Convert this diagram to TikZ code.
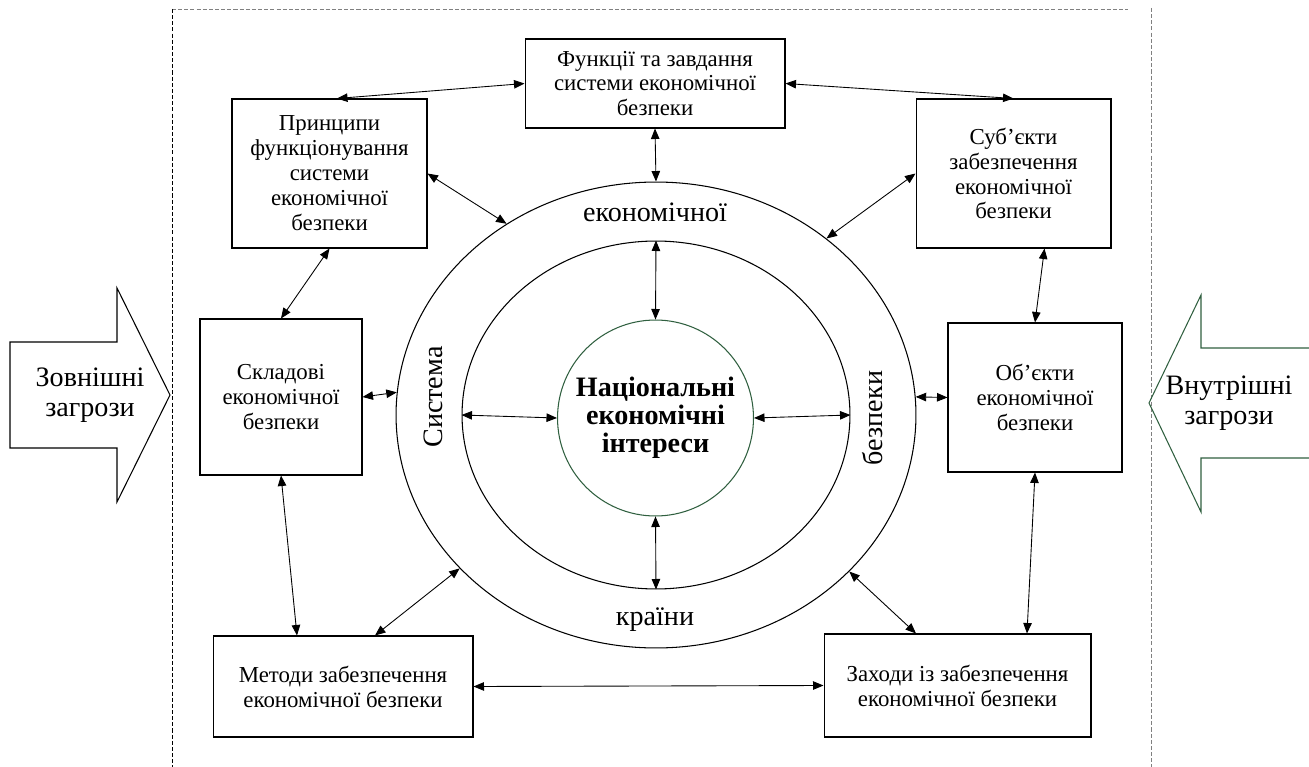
\documentclass[tikz,border=0pt]{standalone}
\usepackage{fontspec}
\setmainfont{Liberation Serif}
\usetikzlibrary{arrows.meta,shapes.geometric}
\definecolor{ringgreen}{RGB}{47,95,63}

\begin{document}
\begin{tikzpicture}[x=0.02cm, y=-0.02cm]

	% Define basic styles
	\tikzset{
		block/.style={
			rectangle, draw=black, line width=0.6pt,
			align=center, inner sep=2pt,
			font=\fontsize{13}{14.2}\selectfont
		},
		ring/.style={
			ellipse, draw=black, line width=0.6pt, inner sep=0pt
		},
		ringtext/.style={
			font=\fontsize{16}{18}\selectfont
		},
		threattext/.style={
			align=center, font=\fontsize{16}{17}\selectfont
		},
		frame/.style={
			line width=0.5pt, dash pattern=on 2.3pt off 1.2pt
		},
		link/.style={
			line width=0.5pt, <->, >={Triangle[length=2.1mm, width=1.7mm]}
		}
	}

	\useasboundingbox (0,0) rectangle (1309,767);

	% Frame
	\draw[frame, gray] (172,9) -- (1128,9);
	\draw[frame, black] (172,9) -- (172,767);
	\draw[frame, gray] (1151,8) -- (1151,767);

	% Threats
	\draw[line width=0.6pt] (10,342) -- (117,342) -- (117,288) -- (170,395)
		-- (117,502) -- (117,448) -- (10,448) -- cycle;
	\node[threattext] (outer threat) at (90,395) {Зовнішні\\загрози};
	\draw[line width=0.6pt, ringgreen] (1312,348) -- (1201,348) -- (1201,295)
		-- (1149,403) -- (1201,512) -- (1201,458) -- (1312,458);
	\node[threattext] (inner threat) at (1229,403) {Внутрішні\\загрози};

	% Rings
	\node[ring, minimum width=10.4cm, minimum height=9.32cm] (outer) at (656,415) {};
	\node[ring, minimum width=7.76cm, minimum height=6.96cm] (mid) at (656,415) {};
	\node[circle, draw=ringgreen, line width=0.6pt, minimum size=3.92cm, inner sep=0pt,
		align=center, font=\fontsize{16}{16}\selectfont\bfseries] (core) at (655.5,418)
		{Національні\\економічні\\інтереси};
	\node[ringtext] (top word) at (655,212) {економічної};
	\node[ringtext] (bottom word) at (655,620) {країни};
	\node[ringtext, rotate=90] (left word) at (433,397) {Система};
	\node[ringtext, rotate=90] (right word) at (873,418) {безпеки};

	% Nodes
	\node[block, minimum width=5.2cm, minimum height=1.78cm] (func) at (655,83.5)
		{Функції та завдання\\системи економічної\\безпеки};
	\node[block, minimum width=3.9cm, minimum height=2.98cm] (prin) at (329.5,173.5)
		{Принципи\\функціонування\\системи\\економічної\\безпеки};
	\node[block, minimum width=3.9cm, minimum height=2.98cm] (subj) at (1013.5,173.5)
		{Суб’єкти\\забезпечення\\економічної\\безпеки};
	\node[block, minimum width=3.24cm, minimum height=3.12cm] (parts) at (281,397)
		{Складові\\економічної\\безпеки};
	\node[block, minimum width=3.48cm, minimum height=2.98cm] (obj) at (1035,397.5)
		{Об’єкти\\економічної\\безпеки};
	\node[block, minimum width=5.2cm, minimum height=2.02cm] (methods) at (343,686.5)
		{Методи забезпечення\\економічної безпеки};
	\node[block, minimum width=5.34cm, minimum height=2.06cm] (measures) at (957.5,685.5)
		{Заходи із забезпечення\\економічної безпеки};

	% Arrows
	\draw[link] (func.west) -- ([xshift=0.15cm]prin.north);
	\draw[link] (func.east) -- (subj.north);
	\draw[link] (func.south) -- (outer.north);
	\draw[link] (mid.north) -- (core.north);
	\draw[link] (prin.east) -- (outer.128);
	\draw[link] (subj.west) -- (outer.46);
	\draw[link] (prin.south) -- (parts.north);
	\draw[link] (parts.east) -- (outer.175);
	\draw[link] ([xshift=0.62cm]subj.south) -- (obj.north);
	\draw[link] (outer.4) -- (obj.west);
	\draw[link] (mid.west) -- (core.west);
	\draw[link] (core.east) -- (mid.east);
	\draw[link] (core.south) -- (mid.south);
	\draw[link] (parts.south) -- ([xshift=-0.92cm]methods.north);
	\draw[link] ([xshift=0.64cm]methods.north) -- (outer.218);
	\draw[link] (methods.east) -- (measures.west);
	\draw[link] (outer.321) -- ([xshift=-0.83cm]measures.north);
	\draw[link] (obj.south) -- ([xshift=1.39cm]measures.north);

\end{tikzpicture}
\end{document}
